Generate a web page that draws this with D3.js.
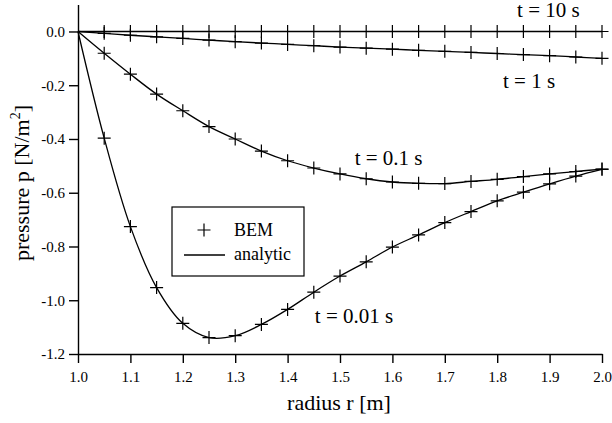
<!DOCTYPE html>
<html>
<head>
<meta charset="utf-8">
<script src="https://cdn.jsdelivr.net/npm/d3@7"></script>
<style>
  body { margin: 0; background: #fff; }
</style>
</head>
<body>
<script>
// radius values (BEM sample points every 0.05 m)
var radius = [1.0, 1.05, 1.1, 1.15, 1.2, 1.25, 1.3, 1.35, 1.4, 1.45, 1.5,
              1.55, 1.6, 1.65, 1.7, 1.75, 1.8, 1.85, 1.9, 1.95, 2.0];

// pressure for each time
var p10s  = [0, 0, 0, 0, 0, 0, 0, 0, 0, 0, 0, 0, 0, 0, 0, 0, 0, 0, 0, 0, 0];
var p1s   = [0, -0.007, -0.014, -0.020, -0.026, -0.032, -0.038, -0.043, -0.048, -0.053, -0.058,
             -0.062, -0.066, -0.070, -0.074, -0.078, -0.082, -0.086, -0.090, -0.095, -0.100];
var p01s  = [0, -0.081, -0.159, -0.233, -0.295, -0.354, -0.400, -0.445, -0.481, -0.508, -0.530,
             -0.548, -0.560, -0.565, -0.566, -0.558, -0.550, -0.540, -0.530, -0.521, -0.512];
var p001s = [0, -0.397, -0.726, -0.953, -1.086, -1.139, -1.132, -1.090, -1.034, -0.970, -0.910,
             -0.857, -0.802, -0.757, -0.711, -0.670, -0.630, -0.598, -0.567, -0.538, -0.513];

var seriesList = [p10s, p1s, p01s, p001s];

// curve labels in data units
var labelText = ["t = 10 s", "t = 1 s", "t = 0.1 s", "t = 0.01 s"];
var labelR    = [1.838, 1.811, 1.528, 1.452];
var labelP    = [0.054, -0.210, -0.497, -1.085];

var xTicks = [1.0, 1.1, 1.2, 1.3, 1.4, 1.5, 1.6, 1.7, 1.8, 1.9, 2.0];
var yTicks = [0.0, -0.2, -0.4, -0.6, -0.8, -1.0, -1.2];

var serif = "'Liberation Serif', 'DejaVu Serif', 'Times New Roman', serif";

var svg = d3.select("body").append("svg")
    .attr("width", 612)
    .attr("height", 423);

var x = d3.scaleLinear().domain([1, 2]).range([78, 602]);
var y = d3.scaleLinear().domain([-1.2, 0.1]).range([354, 4.6]);

// axes
svg.append("g")
    .attr("transform", "translate(0," + y(-1.2) + ")")
    .call(d3.axisBottom(x).tickValues(xTicks).tickSize(9).tickSizeOuter(0).tickPadding(8)
        .tickFormat(function(d) { return d.toFixed(1); }));

svg.append("g")
    .attr("transform", "translate(" + x(1) + ",0)")
    .call(d3.axisLeft(y).tickValues(yTicks).tickSize(9).tickSizeOuter(0).tickPadding(4)
        .tickFormat(function(d) { return d.toFixed(1); }));

svg.selectAll(".domain, .tick line").attr("stroke", "#000").attr("stroke-width", 1.4);
svg.selectAll(".tick text")
    .attr("font-size", 15)
    .attr("fill", "#000");

// axis titles
svg.append("text")
    .attr("x", 339)
    .attr("y", 410)
    .attr("text-anchor", "middle")
    .attr("font-size", 22)
    .text("radius r [m]");

var yt = svg.append("text")
    .attr("transform", "translate(29,183) rotate(-90)")
    .attr("text-anchor", "middle")
    .attr("font-size", 22);
yt.append("tspan").text("pressure p [N/m");
yt.append("tspan").attr("font-size", 14).attr("dy", -9).text("2");
yt.append("tspan").attr("dy", 9).text("]");

// analytic lines
var line = d3.line()
    .x(function(d, i) { return x(radius[i]); })
    .y(function(d) { return y(d); })
    .curve(d3.curveCatmullRom.alpha(0.5));

svg.selectAll(".analytic")
    .data(seriesList)
    .enter()
    .append("path")
        .attr("class", "analytic")
        .attr("d", line)
        .attr("fill", "none")
        .attr("stroke", "#000")
        .attr("stroke-width", 1.3);

// BEM markers (crosses), skipping r = 1.0
var cross = "M-6.5 0 H6.5 M0 -6.5 V6.5";
var pts = [];
seriesList.forEach(function(s) {
    s.forEach(function(v, i) { if (i > 0) pts.push([radius[i], v]); });
});

svg.selectAll(".bem")
    .data(pts)
    .enter()
    .append("path")
        .attr("class", "bem")
        .attr("d", cross)
        .attr("transform", function(d) { return "translate(" + x(d[0]) + "," + y(d[1]) + ")"; })
        .attr("fill", "none")
        .attr("stroke", "#000")
        .attr("stroke-width", 1.2);

// curve labels
svg.selectAll(".lbl")
    .data(labelText)
    .enter()
    .append("text")
        .attr("class", "lbl")
        .attr("x", function(d, i) { return x(labelR[i]); })
        .attr("y", function(d, i) { return y(labelP[i]); })
        .attr("font-size", 21)
        .text(function(d) { return d; });

// legend
var legend = svg.append("g");
legend.append("rect")
    .attr("x", 172).attr("y", 207)
    .attr("width", 132).attr("height", 69)
    .attr("fill", "#fff")
    .attr("stroke", "#000")
    .attr("stroke-width", 1.2);
legend.append("path")
    .attr("d", cross)
    .attr("transform", "translate(204,230)")
    .attr("stroke", "#000")
    .attr("stroke-width", 1.2);
legend.append("line")
    .attr("x1", 184).attr("x2", 225)
    .attr("y1", 255).attr("y2", 255)
    .attr("stroke", "#000")
    .attr("stroke-width", 1.3);
legend.append("text").attr("x", 234).attr("y", 236).attr("font-size", 18).text("BEM");
legend.append("text").attr("x", 234).attr("y", 260).attr("font-size", 18).text("analytic");

// serif everywhere
svg.selectAll("text").style("font-family", serif).attr("fill", "#000");
</script>
</body>
</html>
